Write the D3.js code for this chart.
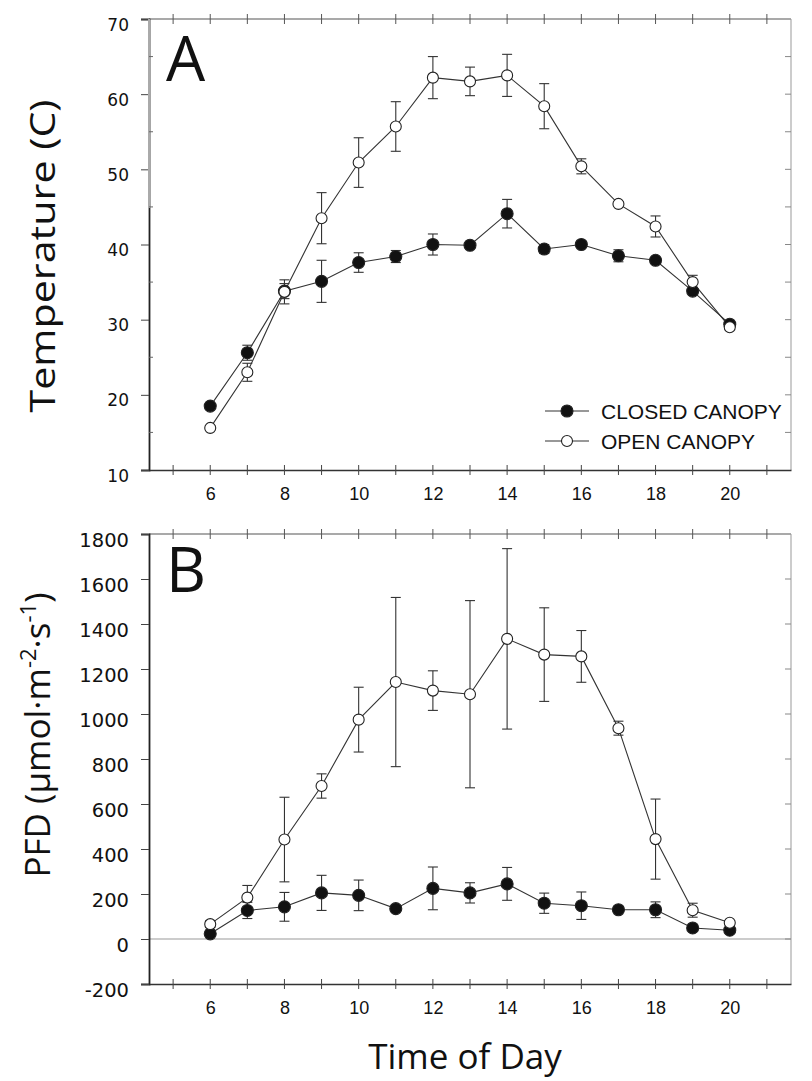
<!DOCTYPE html>
<meta charset="utf-8">
<script src="https://d3js.org/d3.v7.min.js"></script>
<style>
body { margin: 0; background: #fff; }
text { fill: #111; }
.ylab { font-family: "DejaVu Sans", sans-serif; }
.xlab { font-family: "Liberation Sans", Arial, sans-serif; font-size: 18px; }
.leg { font-family: "Liberation Sans", Arial, sans-serif; font-size: 21px; }
.big { font-family: "Open Sans", "Noto Sans", sans-serif; font-size: 35px; }
.panel { font-family: "Open Sans", "Noto Sans", sans-serif; font-size: 62px; }
</style>
<body>
<script>
// chart data
var hours = [6, 7, 8, 9, 10, 11, 12, 13, 14, 15, 16, 17, 18, 19, 20];

var tempClosed    = [18.5, 25.6, 33.8, 35.1, 37.6, 38.4, 40.0, 39.9, 44.1, 39.4, 40.0, 38.5, 37.9, 33.8, 29.4];
var tempClosedErr = [0.3, 1.0, 1.0, 2.8, 1.3, 0.8, 1.4, 0.4, 1.9, 0.6, 0.4, 0.8, 0.4, 0.3, 0.3];
var tempOpen      = [15.6, 23.0, 33.7, 43.5, 50.9, 55.7, 62.2, 61.7, 62.5, 58.4, 50.4, 45.4, 42.4, 35.0, 29.0];
var tempOpenErr   = [0.3, 1.2, 1.6, 3.4, 3.3, 3.3, 2.8, 1.9, 2.8, 3.0, 1.0, 0.3, 1.4, 0.9, 0.3];

var pfdClosed    = [23, 127, 143, 205, 194, 135, 225, 205, 245, 159, 148, 130, 130, 49, 39];
var pfdClosedErr = [10, 36, 64, 78, 68, 15, 95, 45, 73, 45, 61, 12, 35, 10, 8];
var pfdOpen      = [66, 184, 442, 680, 975, 1142, 1104, 1088, 1334, 1264, 1256, 937, 444, 128, 72];
var pfdOpenErr   = [15, 54, 188, 54, 144, 376, 88, 416, 401, 208, 115, 31, 178, 31, 10];

var tempTicks = [10, 20, 30, 40, 50, 60, 70];
var pfdTicks = [-200, 0, 200, 400, 600, 800, 1000, 1200, 1400, 1600, 1800];
var hourLabels = [6, 8, 10, 12, 14, 16, 18, 20];
var legendNames = ["CLOSED CANOPY", "OPEN CANOPY"];

var width = 812, height = 1081;
var svg = d3.select("body").append("svg")
    .attr("width", width)
    .attr("height", height);

var x = d3.scaleLinear().domain([4.35, 21.65]).range([149, 791]);
var minorHours = d3.range(5, 22);

function panel(opts) {
  var y = d3.scaleLinear().domain(opts.domain).range([opts.bottom, opts.top]);
  var g = svg.append("g");
  var x0 = x.range()[0], x1 = x.range()[1];

  // top / right frame, lighter like the scan
  g.append("line").attr("x1", x0).attr("x2", x1)
    .attr("y1", opts.top).attr("y2", opts.top).attr("stroke", "#555").attr("stroke-width", 1.2);
  g.append("line").attr("x1", x1).attr("x2", x1)
    .attr("y1", opts.top).attr("y2", opts.bottom).attr("stroke", "#999").attr("stroke-width", 1);

  if (opts.zero) {
    g.append("line").attr("x1", x0).attr("x2", x1)
      .attr("y1", y(0)).attr("y2", y(0)).attr("stroke", "#999").attr("stroke-width", 1);
  }

  // left axis
  var left = g.append("g").attr("transform", "translate(" + x0 + ",0)")
    .call(d3.axisLeft(y).tickValues(opts.ticks).tickSize(8).tickPadding(12)
      .tickFormat(function(d) { return String(d); }));
  left.select(".domain").attr("stroke", "#222").attr("stroke-width", 1.8);
  left.selectAll(".tick line").attr("stroke", "#444");
  left.selectAll("text").attr("class", "ylab").attr("font-family", null)
    .attr("font-size", opts.labSize).attr("dy", "0.65em");
  if (opts.grayTop) {
    g.append("line").attr("x1", x0).attr("x2", x0)
      .attr("y1", opts.top).attr("y2", opts.grayTop).attr("stroke", "#aaa").attr("stroke-width", 2);
  }

  // minor ticks inside left axis, inner ticks on the right
  g.selectAll(".lt").data(opts.minorTicks).enter().append("line")
    .attr("x1", x0).attr("x2", x0 + 4)
    .attr("y1", function(d) { return y(d); }).attr("y2", function(d) { return y(d); })
    .attr("stroke", "#666");
  g.selectAll(".rt").data(opts.rightTicks).enter().append("line")
    .attr("x1", x1 - 6).attr("x2", x1)
    .attr("y1", function(d) { return y(d); }).attr("y2", function(d) { return y(d); })
    .attr("stroke", "#888");

  // bottom axis
  var bottom = g.append("g").attr("transform", "translate(0," + opts.bottom + ")")
    .call(d3.axisBottom(x).tickValues(hourLabels).tickSize(0).tickPadding(17));
  bottom.select(".domain").attr("stroke", "#333").attr("stroke-width", 1.5);
  bottom.selectAll("text").attr("class", "xlab").attr("font-family", null).attr("font-size", null);
  g.selectAll(".bt").data(minorHours).enter().append("line")
    .attr("x1", function(d) { return x(d); }).attr("x2", function(d) { return x(d); })
    .attr("y1", opts.bottom - 5).attr("y2", opts.bottom + 5).attr("stroke", "#444");
  g.selectAll(".tt").data(minorHours).enter().append("line")
    .attr("x1", function(d) { return x(d); }).attr("x2", function(d) { return x(d); })
    .attr("y1", opts.top - 5).attr("y2", opts.top + 5).attr("stroke", "#555");

  // series
  var series = [
    {v: opts.closed, e: opts.closedErr, fill: "#111", r: 6},
    {v: opts.open, e: opts.openErr, fill: "#fff", r: 5.5}
  ];
  var line = d3.line().x(function(d, i) { return x(hours[i]); }).y(function(d) { return y(d); });
  series.forEach(function(s) {
    var eb = g.append("g").attr("stroke", "#333").attr("stroke-width", 1.1);
    hours.forEach(function(h, i) {
      var cx = x(h), y0 = y(s.v[i] - s.e[i]), y1 = y(s.v[i] + s.e[i]);
      eb.append("line").attr("x1", cx).attr("x2", cx).attr("y1", y0).attr("y2", y1);
      eb.append("line").attr("x1", cx - 5).attr("x2", cx + 5).attr("y1", y0).attr("y2", y0);
      eb.append("line").attr("x1", cx - 5).attr("x2", cx + 5).attr("y1", y1).attr("y2", y1);
    });
  });
  series.forEach(function(s) {
    g.append("path").datum(s.v).attr("d", line)
      .attr("fill", "none").attr("stroke", "#333").attr("stroke-width", 1.1);
  });
  series.forEach(function(s) {
    g.selectAll(null).data(s.v).enter().append("circle")
      .attr("cx", function(d, i) { return x(hours[i]); })
      .attr("cy", function(d) { return y(d); })
      .attr("r", s.r)
      .attr("fill", s.fill).attr("stroke", "#222").attr("stroke-width", 1.1);
  });

  g.append("text").attr("class", "panel").attr("x", 166).attr("y", opts.letterY).text(opts.letter);
  return y;
}

var yA = panel({
  domain: [10, 70], top: 19, bottom: 470, ticks: tempTicks, labSize: 17,
  minorTicks: [15, 25, 35, 45, 55, 65], grayTop: 208,
  rightTicks: d3.range(15, 70, 5),
  closed: tempClosed, closedErr: tempClosedErr, open: tempOpen, openErr: tempOpenErr,
  letter: "A", letterY: 81
});

var yB = panel({
  domain: [-200, 1800], top: 534, bottom: 984, ticks: pfdTicks, zero: true, labSize: 19.5,
  minorTicks: [],
  rightTicks: d3.range(0, 1800, 200),
  closed: pfdClosed, closedErr: pfdClosedErr, open: pfdOpen, openErr: pfdOpenErr,
  letter: "B", letterY: 592
});

// legend
var leg = svg.append("g");
legendNames.forEach(function(name, i) {
  var ly = 411 + i * 30;
  leg.append("line").attr("x1", 545).attr("x2", 589).attr("y1", ly).attr("y2", ly)
    .attr("stroke", "#333").attr("stroke-width", 1.1);
  leg.append("circle").attr("cx", 567).attr("cy", ly).attr("r", i === 0 ? 6 : 5.5)
    .attr("fill", i === 0 ? "#111" : "#fff").attr("stroke", "#222").attr("stroke-width", 1.1);
  leg.append("text").attr("class", "leg").attr("x", 601).attr("y", ly + 8).text(name);
});

// axis titles
svg.append("text").attr("class", "big")
  .attr("transform", "translate(55,256) rotate(-90)")
  .attr("text-anchor", "middle")
  .attr("textLength", 313).attr("lengthAdjust", "spacingAndGlyphs")
  .text("Temperature (C)");

var pfd = svg.append("text").attr("class", "big")
  .attr("transform", "translate(50,735) rotate(-90)")
  .attr("text-anchor", "middle");
pfd.append("tspan").text("PFD (\u00b5mol\u00b7m");
pfd.append("tspan").attr("dy", -14).attr("font-size", 22).text("-2");
pfd.append("tspan").attr("dy", 14).text("\u00b7s");
pfd.append("tspan").attr("dy", -14).attr("font-size", 22).text("-1");
pfd.append("tspan").attr("dy", 14).text(")");

svg.append("text").attr("class", "big")
  .attr("x", 465).attr("y", 1069).attr("text-anchor", "middle").text("Time of Day");
</script>
</body>
